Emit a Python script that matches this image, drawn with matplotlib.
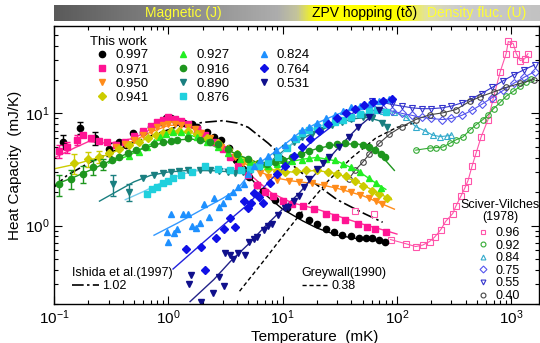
import numpy as np
import matplotlib
matplotlib.use('Agg')
import matplotlib.pyplot as plt
from matplotlib.colors import LinearSegmentedColormap
from matplotlib.lines import Line2D
from matplotlib.ticker import NullFormatter, LogLocator

plt.rcParams['font.family'] = ['Liberation Sans', 'DejaVu Sans']
plt.rcParams['mathtext.default'] = 'regular'

# ---- This work (T in mK, C in mJ/K) ----
t997 = [0.12, 0.17, 0.23, 0.30, 0.37, 0.43, 0.49, 0.60, 0.70, 0.86, 0.95, 1.05, 1.17, 1.37, 1.6, 1.8, 2.2, 2.5,
        2.9, 3.4, 3.9, 4.5, 5.1, 6.0, 6.8, 8.5, 11, 14, 17, 20, 24, 28, 33, 40, 47, 54, 61, 70, 78]
c997 = [5.6, 7.4, 6.0, 4.8, 5.5, 5.2, 6.7, 6.8, 7.6, 8.4, 9.1, 9.0, 8.4, 8.2, 8.0, 7.6, 6.8, 6.1,
        5.8, 4.9, 3.8, 3.2, 2.7, 2.3, 2.05, 1.7, 1.42, 1.25, 1.13, 1.03, 0.94, 0.88, 0.83, 0.80, 0.78, 0.77, 0.77, 0.74, 0.72]
e997 = [0.8, 0.9, 0.8, 0.6]

t971 = [0.11, 0.13, 0.16, 0.18, 0.21, 0.25, 0.29, 0.35, 0.42, 0.5, 0.6, 0.7, 0.8, 0.9, 1.0, 1.15, 1.3, 1.5, 1.8,
        2.1, 2.5, 3, 3.5, 4.1, 5, 6, 7, 8.3, 10, 12, 15, 19, 24, 29, 35, 46, 55, 64, 80]
c971 = [4.6, 5.0, 5.8, 6.4, 6.0, 5.7, 5.5, 5.2, 5.6, 6.3, 6.9, 7.7, 8.3, 8.8, 9.2, 8.9, 8.5, 8.0, 7.2,
        6.4, 5.6, 4.8, 4.1, 3.4, 2.8, 2.3, 2.0, 1.83, 1.65, 1.55, 1.48, 1.4, 1.28, 1.2, 1.12, 1.04, 0.98, 0.94, 0.88]
e971 = [0.6, 0.6, 0.6]

t950 = [0.35, 0.42, 0.5, 0.6, 0.7, 0.8, 0.9, 1.0, 1.15, 1.3, 1.5, 1.7, 1.95, 2.3, 2.9, 3.3, 3.8, 4.5, 5.3,
        6.3, 7.5, 9, 11.3, 14, 18, 23, 28.7, 34, 40, 48, 57, 66, 74]
c950 = [5.0, 5.3, 5.8, 6.4, 7.0, 7.5, 7.9, 8.1, 8.1, 7.9, 7.6, 7.2, 6.7, 6.0, 5.0, 4.5, 4.05, 3.6, 3.3,
        2.95, 2.7, 2.55, 2.5, 2.45, 2.4, 2.3, 2.15, 2.1, 2.0, 1.88, 1.76, 1.65, 1.55]

t941 = [0.15, 0.2, 0.25, 0.3, 0.37, 0.45, 0.55, 0.66, 0.78, 0.9, 1.05, 1.25, 1.5, 1.8, 2.2, 2.7, 3.3, 4, 5,
        6, 7.5, 9, 10.5, 13, 16, 20, 25, 30, 36, 43, 50, 60, 70, 82]
c941 = [3.6, 3.9, 4.1, 4.4, 4.8, 5.2, 5.6, 6.0, 6.4, 6.7, 6.9, 7.0, 6.9, 6.6, 6.0, 5.4, 4.8, 4.3, 3.8,
        3.5, 3.2, 3.05, 3.0, 3.05, 3.1, 3.1, 3.0, 2.9, 2.75, 2.5, 2.25, 2.05, 1.9, 1.76]
e941 = [0.7, 0.6, 0.5]

t927 = [0.45, 0.55, 0.65, 0.75, 0.85, 0.95, 1.1, 1.3, 1.5, 1.8, 2.2, 2.7, 3.3, 4.2, 5.2, 6.5, 7.5, 9, 10.4,
        12, 14.7, 17, 20, 24, 28.7, 34, 40, 48, 57, 65, 72]
c927 = [4.2, 4.5, 5.0, 5.6, 6.1, 6.5, 6.8, 6.8, 6.6, 6.2, 5.6, 5.0, 4.4, 3.9, 3.7, 3.5, 3.4, 3.5, 3.65,
        3.75, 3.85, 4.0, 4.05, 3.95, 3.8, 3.55, 3.3, 3.0, 2.67, 2.4, 2.15]

t916 = [0.11, 0.14, 0.18, 0.22, 0.27, 0.32, 0.37, 0.44, 0.52, 0.62, 0.75, 0.9, 1.05, 1.2, 1.5, 1.9, 2.3, 2.7,
        3.3, 4, 5, 6.2, 7.3, 8.5, 10, 12, 14.5, 17, 21, 25.5, 30, 35, 42, 50, 57, 64, 72, 78]
c916 = [2.35, 2.6, 2.9, 3.3, 3.5, 3.8, 4.1, 4.4, 4.7, 5.0, 5.3, 5.5, 5.7, 5.8, 6.0, 5.8, 5.6, 5.3,
        4.8, 4.3, 3.9, 3.6, 3.55, 3.65, 3.85, 4.1, 4.35, 4.6, 4.95, 5.2, 5.35, 5.4, 5.35, 5.2, 5.0, 4.7, 4.35, 4.05]
e916 = [0.5, 0.5, 0.5, 0.5, 0.4]

t890 = [0.33, 0.45, 0.6, 0.75, 0.9, 1.05, 1.23, 1.5, 1.9, 2.3, 2.8, 3.3, 3.8, 4.5, 5.3, 6.3, 7.5, 8.8, 10.4,
        12.5, 14.7, 18, 21.8, 27, 33, 40, 50, 60, 74, 82]
c890 = [2.35, 2.0, 2.67, 2.85, 2.95, 3.0, 3.07, 3.1, 3.1, 3.1, 3.07, 3.0, 2.97, 3.0, 3.1, 3.3, 3.7, 4.2, 4.9,
        5.5, 6.1, 6.6, 7.1, 7.8, 8.4, 8.9, 9.3, 9.0, 8.2, 7.6]
e890 = [0.5, 0.35]

t876 = [0.65, 0.72, 0.8, 0.9, 1.0, 1.1, 1.3, 1.6, 2.1, 2.7, 3.5, 4.3, 5.2, 6.2, 7.5, 9.2, 11, 13, 14.7, 17,
        20, 24, 28.7, 34, 40, 48, 57, 67, 80]
c876 = [1.9, 2.1, 2.2, 2.4, 2.5, 2.67, 2.8, 3.0, 3.4, 3.2, 3.1, 3.15, 3.2, 3.4, 3.7, 4.1, 4.9, 5.9, 6.7, 7.1,
        7.6, 8.0, 8.4, 8.8, 9.3, 9.9, 10.4, 10.6, 10.2]

t824 = [0.98, 1.0, 1.05, 1.12, 1.2, 1.35, 1.5, 1.6, 1.75, 1.9, 2.05, 2.25, 2.5, 2.8, 3.0, 3.3, 3.7, 4.1, 4.6,
        5.0, 5.6, 6.4, 7.5, 8.8, 10.4, 12.5, 14.7, 17, 20, 24, 28.7, 34, 40, 48, 57, 70, 85]
c824 = [0.88, 0.72, 1.28, 0.85, 0.94, 1.28, 1.28, 1.0, 0.95, 1.05, 1.55, 1.2, 1.76, 1.45, 1.6, 1.83, 2.0, 2.2, 2.35,
        2.9, 3.4, 3.8, 4.2, 4.7, 5.2, 6.2, 7.1, 7.6, 8.2, 9.0, 9.7, 10.5, 11.3, 11.7, 12.0, 12.8, 13.3]

t764 = [1.43, 1.94, 2.1, 2.6, 3.1, 3.5, 3.8, 4.6, 5.0, 5.3, 5.6, 6.2, 6.8, 7.7, 9, 10.5, 12.5, 14.7, 17.5,
        21, 25, 30, 36, 43, 52, 62, 75, 90]
c764 = [0.62, 0.65, 0.4, 0.78, 0.94, 1.16, 0.98, 1.64, 1.43, 1.58, 1.95, 1.8, 1.58, 2.4, 2.9, 3.4, 4.2, 5.0, 5.9,
        6.9, 8.0, 9.0, 10.0, 11.0, 11.8, 12.5, 13.0, 13.5]

t531 = [1.52, 1.58, 1.94, 2.45, 2.8, 3.1, 3.15, 3.5, 3.7, 4.1, 4.7, 5.1, 5.6, 6.0, 6.9, 7.5, 8, 9.2, 10.4,
        11.2, 12.5, 13.8, 15.5, 17, 20, 22.5, 25.5, 31, 38, 46, 57, 70]
c531 = [0.30, 0.36, 0.21, 0.25, 0.35, 0.29, 0.57, 0.55, 0.50, 0.57, 0.55, 0.72, 0.76, 0.79, 0.92, 1.0, 1.04, 1.25, 1.43,
        1.45, 1.65, 1.85, 2.2, 2.6, 3.2, 3.6, 4.06, 5.0, 6.1, 7.5, 9.2, 10.8]

# fitted curves of this work
ft997 = [2.5, 3.3, 4, 5, 7, 10, 15, 20, 30, 50, 80]
fc997 = [5.3, 4.4, 3.6, 2.8, 1.9, 1.4, 1.1, 0.95, 0.82, 0.75, 0.72]
ft971 = [0.1, 0.15, 0.2, 0.3, 0.5, 0.7, 1.0, 1.4, 2, 3, 4, 5.5, 8, 12, 20, 30, 50, 80, 100]
fc971 = [4.0, 4.9, 5.6, 5.4, 6.0, 7.2, 8.5, 8.3, 7.0, 5.0, 3.7, 2.7, 1.95, 1.6, 1.4, 1.22, 1.03, 0.9, 0.84]
ft950 = [0.3, 0.5, 0.7, 1, 1.4, 2, 3, 4, 5.5, 8, 12, 20, 30, 50, 75, 95]
fc950 = [4.8, 5.7, 6.8, 7.8, 7.9, 6.6, 4.9, 3.9, 3.25, 2.7, 2.5, 2.35, 2.15, 1.85, 1.55, 1.4]
ft941 = [0.1, 0.15, 0.2, 0.3, 0.5, 0.8, 1.2, 1.8, 3, 5, 8, 12, 20, 30, 45, 65, 90]
fc941 = [3.2, 3.5, 3.8, 4.3, 5.4, 6.4, 6.9, 6.6, 5.0, 3.8, 3.15, 3.0, 3.1, 2.9, 2.45, 2.0, 1.7]
ft927 = [0.3, 0.45, 0.7, 1.0, 1.4, 2, 3, 5, 7, 10, 15, 20, 30, 45, 65, 80]
fc927 = [3.6, 4.2, 5.3, 6.5, 6.7, 5.8, 4.6, 3.7, 3.45, 3.6, 3.9, 4.05, 3.75, 3.1, 2.4, 2.1]
ft916 = [0.1, 0.15, 0.22, 0.35, 0.5, 0.8, 1.2, 1.6, 2.5, 4, 6, 9, 14, 20, 30, 45, 65, 95]
fc916 = [2.3, 2.7, 3.2, 4.0, 4.6, 5.3, 5.8, 5.9, 5.4, 4.3, 3.65, 3.65, 4.3, 4.85, 5.3, 5.35, 4.8, 3.1]
ft890 = [0.25, 0.35, 0.5, 0.7, 1.0, 1.5, 2.5, 4, 6, 8, 12, 18, 27, 40, 55, 70, 85]
fc890 = [1.65, 2.0, 2.45, 2.8, 3.0, 3.1, 3.08, 2.98, 3.2, 3.8, 5.3, 6.6, 7.8, 8.9, 9.2, 8.6, 7.6]
ft876 = [0.42, 0.6, 0.9, 1.3, 2, 3, 4.5, 6.5, 9, 13, 20, 30, 45, 65, 85]
fc876 = [1.7, 2.0, 2.45, 2.85, 3.2, 3.2, 3.2, 3.45, 4.0, 5.8, 7.6, 8.5, 9.5, 10.4, 10.3]
ft824 = [0.75, 1.2, 2, 3, 4, 6, 9, 14, 20, 30, 45, 65, 90]
fc824 = [0.82, 1.05, 1.4, 1.75, 2.1, 3.5, 4.7, 6.7, 8.2, 9.8, 11.3, 12.3, 13.3]
ft764 = [1.1, 2, 3, 5, 8, 12, 18, 28, 40, 60, 95]
fc764 = [0.41, 0.7, 1.0, 1.55, 2.6, 3.8, 5.6, 7.9, 9.9, 12.0, 13.5]
ft531 = [1.55, 2.5, 3.5, 5, 7, 10, 14, 20, 30, 45, 70]
fc531 = [0.21, 0.33, 0.48, 0.68, 0.98, 1.4, 1.95, 3.0, 4.8, 7.4, 10.8]

# ---- Ishida et al. (1997) and Greywall (1990) ----
t_ishida = [0.1, 0.13, 0.2, 0.3, 0.5, 0.8, 1.2, 2, 3, 4, 5, 7.5, 10, 15, 20, 30, 50, 75]
c_ishida = [2.2, 2.8, 3.6, 4.4, 5.5, 6.6, 7.6, 8.3, 8.6, 8.2, 7.5, 5.4, 4.1, 2.9, 2.3, 1.7, 1.3, 1.07]
t_grey = [4.2, 7, 10, 15, 25, 40, 65, 100, 150]
c_grey = [0.26, 0.5, 0.8, 1.35, 2.5, 4.0, 6.0, 7.5, 8.3]

# ---- Sciver-Vilches (1978) ----
t_s96 = [43, 63, 88, 119, 146, 168, 193, 214, 242, 267, 308, 328, 363, 393, 418, 455, 492, 545, 627, 693,
         800, 903, 942, 1042, 1107, 1200, 1310, 1400]
c_s96 = [1.34, 1.26, 0.75, 0.69, 0.65, 0.67, 0.72, 0.79, 0.92, 1.09, 1.28, 1.49, 1.83, 2.16, 2.5, 3.4, 4.4, 6.15,
         8.8, 13.3, 23.4, 34, 43.7, 41.8, 34, 29.5, 30.6, 34]
t_s92 = [146, 193, 220, 252, 290, 328, 378, 435, 492, 566, 627, 700, 800, 903, 1042, 1200, 1350, 1485]
c_s92 = [4.7, 4.9, 4.95, 5.0, 5.4, 5.8, 6.15, 7.1, 7.9, 8.8, 9.7, 11, 12.5, 14.2, 15.7, 17.4, 19, 20.2]
t_s84 = [40, 50, 60, 75, 95, 120, 146, 175, 205, 240, 275, 300]
c_s84 = [9.0, 9.8, 10.3, 10.5, 10.2, 9.3, 7.6, 7.0, 6.4, 6.2, 6.3, 6.4]
t_s75 = [60, 75, 90, 110, 135, 165, 200, 250, 300, 370, 450, 550, 680, 850, 1050, 1300, 1600]
c_s75 = [11.5, 11.0, 10.5, 10.0, 9.6, 9.2, 9.0, 8.8, 9.0, 9.6, 10.6, 12.0, 13.8, 16.0, 18.5, 21.0, 23.5]
t_s55 = [60, 75, 90, 110, 135, 165, 200, 250, 300, 370, 450, 550, 680, 850, 1050, 1300, 1600]
c_s55 = [13.0, 12.5, 12.0, 11.6, 11.2, 11.0, 11.0, 11.2, 11.6, 12.4, 13.5, 15.0, 17.0, 19.5, 22.0, 24.5, 27.0]
t_s40 = [38, 43, 50, 57, 70, 86, 110, 146, 193, 252, 328, 435, 530, 700, 900, 1200, 1570]
c_s40 = [2.6, 3.1, 3.65, 4.3, 5.4, 6.5, 7.6, 8.8, 9.7, 10.1, 10.8, 12.8, 14.0, 15.5, 17.0, 18.5, 20.0]

this_work = [
    ('0.997', t997, c997, e997, ft997, fc997, 'o', '#000000', '#000000'),
    ('0.971', t971, c971, e971, ft971, fc971, 's', '#ff1493', '#ff3399'),
    ('0.950', t950, c950, None, ft950, fc950, 'v', '#ff8c1a', '#ff8c1a'),
    ('0.941', t941, c941, e941, ft941, fc941, 'D', '#cccc00', '#cccc00'),
    ('0.927', t927, c927, None, ft927, fc927, '^', '#22ee22', '#22ee22'),
    ('0.916', t916, c916, e916, ft916, fc916, 'o', '#1e961e', '#1e961e'),
    ('0.890', t890, c890, e890, ft890, fc890, 'v', '#1a7f80', '#1a7f80'),
    ('0.876', t876, c876, None, ft876, fc876, 's', '#20d0dd', '#77ccee'),
    ('0.824', t824, c824, None, ft824, fc824, '^', '#1e90ff', '#3399ff'),
    ('0.764', t764, c764, None, ft764, fc764, 'D', '#1010e6', '#2222dd'),
    ('0.531', t531, c531, None, ft531, fc531, 'v', '#10108c', '#222288'),
]
sciver = [
    ('0.96', t_s96, c_s96, 's', '#ff55aa'),
    ('0.92', t_s92, c_s92, 'o', '#33aa33'),
    ('0.84', t_s84, c_s84, '^', '#33aacc'),
    ('0.75', t_s75, c_s75, 'D', '#5555ee'),
    ('0.55', t_s55, c_s55, 'v', '#3333cc'),
    ('0.40', t_s40, c_s40, 'o', '#444444'),
]

fig = plt.figure(figsize=(5.4, 3.43), dpi=100)
ax = fig.add_axes([54 / 540, 39 / 343, 485 / 540, 278 / 343])

# top band
band = fig.add_axes([54 / 540, 322 / 343, 486 / 540, 16 / 343])
cmap = LinearSegmentedColormap.from_list('band', [(0, '#5a5a5a'), (0.46, '#adadad'), (0.50, '#c4c49c'),
                                                  (0.54, '#ffff00'), (0.72, '#ffff00'), (0.77, '#e0e0a8'),
                                                  (0.83, '#cccccc'), (1, '#c2c2c2')])
band.imshow(np.linspace(0, 1, 512)[None, :], cmap=cmap, aspect='auto', extent=(0, 1, 0, 1))
band.set_xlim(0, 1)
band.set_ylim(0, 1)
band.axis('off')
band.text(0.267, 0.5, 'Magnetic (J)', color='#ffff33', ha='center', va='center', fontsize=10)
band.text(0.64, 0.5, 'ZPV hopping (t\u03b4)', color='black', ha='center', va='center', fontsize=10)
band.text(0.87, 0.5, 'Density fluc. (U)', color='#ffff33', ha='center', va='center', fontsize=10)

# reference curves
ax.plot(t_ishida, c_ishida, color='black', lw=1.2, dashes=(7, 2, 1.5, 2))
ax.plot(t_grey, c_grey, color='black', lw=1.0, dashes=(3, 2))

# Sciver-Vilches
for lab, t, c, m, col in sciver:
    start = 2 if lab == '0.96' else 0
    ax.plot(t[start:], c[start:], color=col, lw=0.8)
    ax.plot(t, c, ls='none', marker=m, ms=4, mfc='none', mec=col, mew=0.8)

# fits then data
for lab, t, c, e, ft, fc, m, col, lcol in this_work:
    ax.plot(ft, fc, color=lcol, lw=1.0)
for lab, t, c, e, ft, fc, m, col, lcol in this_work:
    ms = 3.8 if m == 'D' else 4.5
    ax.plot(t, c, ls='none', marker=m, ms=ms, color=col, mec=col)
    if e is not None:
        n = len(e)
        ax.errorbar(t[:n], c[:n], yerr=e, ls='none', ecolor=col, elinewidth=1.0, capsize=2.5, capthick=1.0)

ax.set_xscale('log')
ax.set_yscale('log')
ax.set_xlim(0.1, 1750)
ax.set_ylim(0.2, 60)
ax.yaxis.set_minor_formatter(NullFormatter())
ax.xaxis.set_minor_formatter(NullFormatter())
ax.xaxis.set_minor_locator(LogLocator(base=10, subs=np.arange(2, 10)))
ax.yaxis.set_minor_locator(LogLocator(base=10, subs=np.arange(2, 10)))
ax.tick_params(which='both', direction='in', top=True, right=True, labelsize=11, width=0.8)
ax.tick_params(which='major', length=6)
ax.tick_params(which='minor', length=3)
for s in ax.spines.values():
    s.set_linewidth(1.0)
ax.set_xlabel('Temperature  (mK)', fontsize=11, labelpad=1)
ax.xaxis.set_label_coords((315 - 54) / 485, -0.095)
ax.set_ylabel('Heat Capacity  (mJ/K)', fontsize=11, labelpad=2)

# legends
tw_handles = [Line2D([], [], ls='none', marker=m, ms=(3.8 if m == 'D' else 4.5), color=col)
              for lab, t, c, e, ft, fc, m, col, lcol in this_work]
tw_labels = [row[0] for row in this_work]
leg1 = ax.legend(tw_handles, tw_labels, ncol=3, loc='upper left', bbox_to_anchor=(0.0887, 0.917),
                 frameon=False, fontsize=9.5, handlelength=0.8, handletextpad=0.6, columnspacing=2.2,
                 labelspacing=0.15, borderpad=0, borderaxespad=0)
ax.add_artist(leg1)
ax.text(0.074, 0.942, 'This work', fontsize=9.5, ha='left', va='center', transform=ax.transAxes)

sv_handles = [Line2D([], [], ls='none', marker=m, ms=3.5, mfc='none', mec=col, mew=0.8)
              for lab, t, c, m, col in sciver]
sv_labels = [row[0] for row in sciver]
leg2 = ax.legend(sv_handles, sv_labels, loc='upper left', bbox_to_anchor=(0.875, 0.277), frameon=False,
                 fontsize=9, handlelength=0.8, handletextpad=0.6, labelspacing=0.05, borderpad=0,
                 borderaxespad=0)
ax.add_artist(leg2)
ax.text(0.92, 0.335, 'Sciver-Vilches\n(1978)', fontsize=9, ha='center', va='center',
        transform=ax.transAxes, linespacing=1.0)

ish_handle = [Line2D([], [], color='black', lw=1.2, dashes=(7, 2, 1.5, 2))]
leg3 = ax.legend(ish_handle, ['1.02'], title='Ishida et al.(1997)', loc='upper left',
                 bbox_to_anchor=(0.037, 0.133), frameon=False, fontsize=9, title_fontsize=9,
                 handlelength=2.2, handletextpad=0.2, borderpad=0, borderaxespad=0, alignment='left',
                 labelspacing=0.1)
ax.add_artist(leg3)
grey_handle = [Line2D([], [], color='black', lw=1.0, dashes=(3, 2))]
ax.legend(grey_handle, ['0.38'], title='Greywall(1990)', loc='upper left',
          bbox_to_anchor=(0.511, 0.133), frameon=False, fontsize=9, title_fontsize=9,
          handlelength=2.2, handletextpad=0.2, borderpad=0, borderaxespad=0, alignment='left',
          labelspacing=0.1)

fig.savefig('out.png', dpi=100)
